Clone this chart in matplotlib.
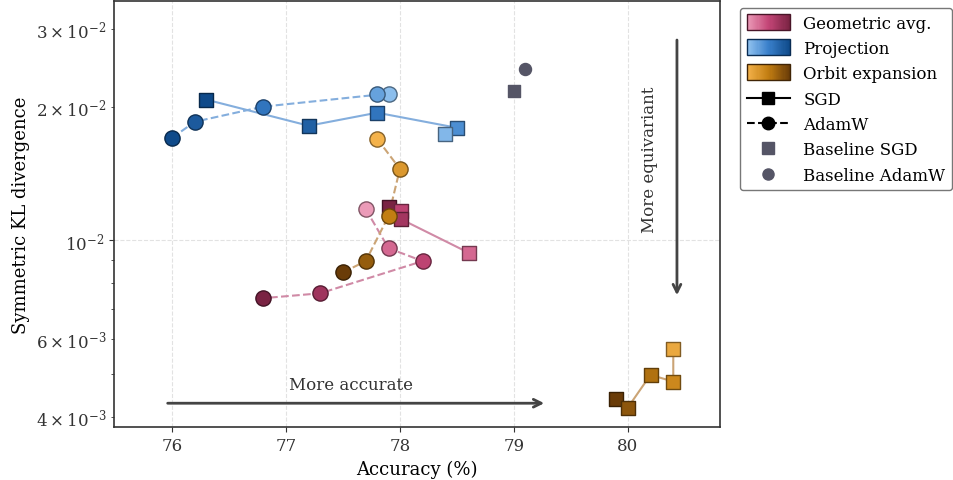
import numpy as np
import matplotlib
matplotlib.use("Agg")
import matplotlib.pyplot as plt
from matplotlib.colors import LinearSegmentedColormap, to_rgba
from matplotlib.lines import Line2D
from matplotlib.patches import Rectangle, Patch
from matplotlib.legend_handler import HandlerBase

plt.rcParams['font.family'] = 'DejaVu Serif'

# ---- data (accuracy %, symmetric KL, shade level 0=light..1=dark) ----
geo_sgd_acc = [77.90, 78.01, 78.01, 78.61]
geo_sgd_kl = [0.01188, 0.01163, 0.01115, 0.00935]
geo_sgd_lvl = [1.0, 0.55, 0.72, 0.3]

geo_adam_acc = [77.70, 77.90, 78.20, 77.30, 76.80]
geo_adam_kl = [0.01175, 0.00959, 0.00897, 0.00759, 0.00740]
geo_adam_lvl = [0.0, 0.3, 0.55, 0.75, 1.0]

proj_sgd_acc = [76.30, 77.20, 77.80, 78.50, 78.40]
proj_sgd_kl = [0.02074, 0.01811, 0.01938, 0.01792, 0.01737]
proj_sgd_lvl = [1.0, 0.8, 0.6, 0.4, 0.1]

proj_adam_acc = [76.00, 76.20, 76.80, 77.90, 77.80]
proj_adam_kl = [0.01701, 0.01849, 0.02000, 0.02140, 0.02140]
proj_adam_lvl = [1.0, 0.85, 0.6, 0.05, 0.25]

orbit_sgd_acc = [79.90, 80.00, 80.20, 80.40, 80.40]
orbit_sgd_kl = [0.00439, 0.00419, 0.00497, 0.00480, 0.005695]
orbit_sgd_lvl = [1.0, 0.8, 0.6, 0.4, 0.1]

orbit_adam_acc = [77.80, 78.00, 77.90, 77.70, 77.50]
orbit_adam_kl = [0.01693, 0.01447, 0.01133, 0.00897, 0.00846]
orbit_adam_lvl = [0.0, 0.25, 0.5, 0.75, 1.0]

base_sgd = (79.00, 0.02174)
base_adam = (79.10, 0.02425)

cm_geo = LinearSegmentedColormap.from_list('geo', ['#eb9bb8', '#c44677', '#7a2343'])
cm_proj = LinearSegmentedColormap.from_list('proj', ['#93c4f0', '#3a80cb', '#0f4a8a'])
cm_orbit = LinearSegmentedColormap.from_list('orbit', ['#f4b24a', '#c27e12', '#6a3c08'])
line_cols = {'geo': '#d08aa6', 'proj': '#84aedd', 'orbit': '#cba475'}

fig = plt.figure(figsize=(9.54, 4.81), dpi=100)
ax = fig.add_axes([0.1195, 0.110, 0.6352, 0.8858])


def draw(acc, kl, lvl, cmap, lc, marker, ls, size):
    ax.plot(acc, kl, ls=ls, color=lc, lw=1.5, zorder=2)
    face = cmap(np.array(lvl))
    edge = face.copy()
    edge[:, :3] *= 0.55
    for i in range(len(acc)):
        ax.scatter(acc[i], kl[i], s=size, marker=marker, c=[face[i]],
                   edgecolors=[edge[i]], linewidths=1.0, zorder=3)


draw(proj_sgd_acc, proj_sgd_kl, proj_sgd_lvl, cm_proj, line_cols['proj'], 's', '-', 105)
draw(proj_adam_acc, proj_adam_kl, proj_adam_lvl, cm_proj, line_cols['proj'], 'o', '--', 120)
draw(geo_sgd_acc, geo_sgd_kl, geo_sgd_lvl, cm_geo, line_cols['geo'], 's', '-', 105)
draw(geo_adam_acc, geo_adam_kl, geo_adam_lvl, cm_geo, line_cols['geo'], 'o', '--', 120)
draw(orbit_sgd_acc, orbit_sgd_kl, orbit_sgd_lvl, cm_orbit, line_cols['orbit'], 's', '-', 105)
draw(orbit_adam_acc, orbit_adam_kl, orbit_adam_lvl, cm_orbit, line_cols['orbit'], 'o', '--', 120)

ax.scatter(*base_sgd, s=75, marker='s', color='#555566', zorder=3)
ax.scatter(*base_adam, s=75, marker='o', color='#555566', zorder=3)

ax.set_yscale('log')
ax.set_xlim(75.49, 80.81)
ax.set_ylim(3.79e-3, 3.46e-2)
ax.set_xlabel('Accuracy (%)', fontsize=13)
ax.set_ylabel('Symmetric KL divergence', fontsize=13)
ax.tick_params(which='both', labelsize=12, colors='#333333')
ax.grid(True, which='major', ls='--', color='#e2e2e2', lw=0.8)
for s in ax.spines.values():
    s.set_color('#333333')
    s.set_linewidth(1.2)

# direction arrows
ax.annotate('', xy=(0.7145, 0.056), xytext=(0.084, 0.056), xycoords='axes fraction',
            arrowprops=dict(arrowstyle='->', lw=2, color='#444444', mutation_scale=14))
ax.text(0.391, 0.10, 'More accurate', transform=ax.transAxes, ha='center', va='center',
        fontsize=12, color='#333333')
ax.annotate('', xy=(0.929, 0.303), xytext=(0.929, 0.915), xycoords='axes fraction',
            arrowprops=dict(arrowstyle='->', lw=2, color='#444444', mutation_scale=14))
ax.text(0.884, 0.63, 'More equivariant', transform=ax.transAxes, ha='center', va='center',
        rotation=90, fontsize=12, color='#333333')


class GradientHandler(HandlerBase):
    def __init__(self, cmap, n=40):
        super().__init__()
        self.cmap = cmap
        self.n = n

    def create_artists(self, legend, orig_handle, xdescent, ydescent, width, height, fontsize, trans):
        arts = []
        w = width / self.n
        h = height * 1.35
        y0 = -ydescent - (h - height) / 2
        for i in range(self.n):
            arts.append(Rectangle((-xdescent + i * w, y0), w * 1.05, h,
                                  facecolor=self.cmap(i / (self.n - 1)), edgecolor='none', transform=trans))
        ec = np.array(to_rgba(self.cmap(1.0)))
        ec[:3] *= 0.6
        arts.append(Rectangle((-xdescent, y0), width, h, fill=False,
                              edgecolor=ec, lw=1, transform=trans))
        return arts


p_geo, p_proj, p_orbit = Patch(), Patch(), Patch()
handles = [p_geo, p_proj, p_orbit,
           Line2D([], [], color='black', ls='-', marker='s', ms=9, lw=1.5),
           Line2D([], [], color='black', ls='--', marker='o', ms=9, lw=1.5),
           Line2D([], [], color='#555566', ls='none', marker='s', ms=8),
           Line2D([], [], color='#555566', ls='none', marker='o', ms=8)]
labels = ['Geometric avg.', 'Projection', 'Orbit expansion', 'SGD', 'AdamW',
          'Baseline SGD', 'Baseline AdamW']
leg = ax.legend(handles, labels, loc='upper left', bbox_to_anchor=(1.033, 0.984),
                fontsize=12, handlelength=2.6, borderaxespad=0, frameon=True,
                handler_map={p_geo: GradientHandler(cm_geo), p_proj: GradientHandler(cm_proj),
                             p_orbit: GradientHandler(cm_orbit)})
leg.get_frame().set_edgecolor('#555555')
leg.get_frame().set_linewidth(1.0)

fig.savefig('out.png', dpi=100)
